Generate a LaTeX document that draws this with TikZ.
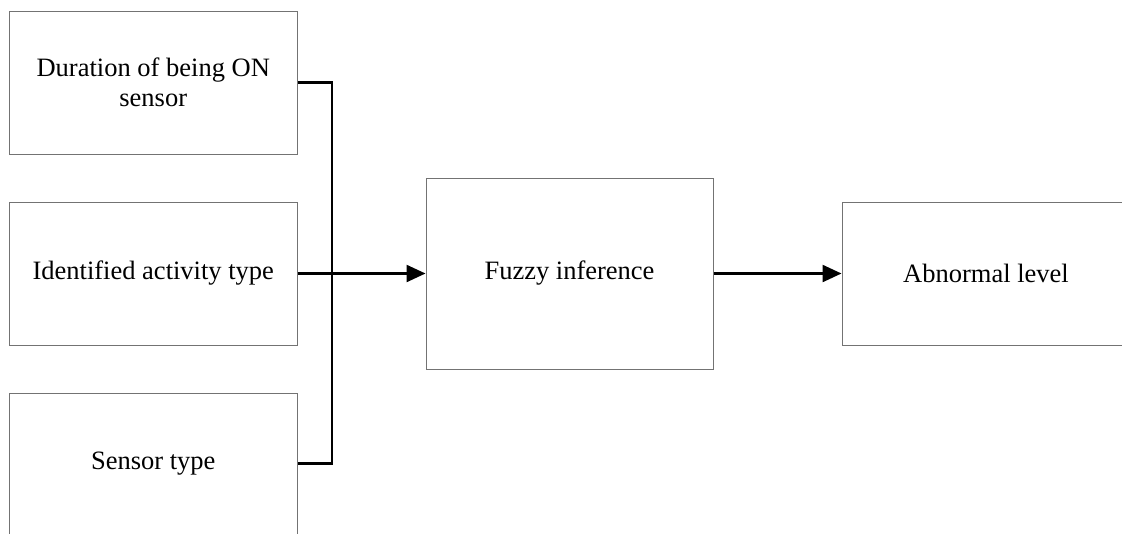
\documentclass[tikz,border=0pt]{standalone}
\usepackage{fontspec}
\setmainfont{Liberation Serif}
\usetikzlibrary{arrows.meta}
\begin{document}
\begin{tikzpicture}[x=1pt,y=-1pt,
  block/.style={draw=black!55,line width=1pt,fill=white,inner sep=0pt,
    minimum width=#1,align=center,font=\fontsize{26.5}{30}\selectfont},
  block/.default=287.5pt,
  wire/.style={line width=2.4pt,line join=miter},
  flow/.style={wire,-{Triangle[length=19pt,width=17pt]}}]
\useasboundingbox (0,0) rectangle (1122,533);
\node[block,minimum height=143pt] (dur) at (153.25,82.5) {Duration of being ON\\sensor};
\node[block,minimum height=143pt] (act) at (153.25,273.5) {Identified activity type};
\node[block,minimum height=141pt] (sen) at (153.25,463.5) {Sensor type};
\node[block=287pt,minimum height=191pt] (fuz) at (569.5,273.5) {Fuzzy inference};
\node[block=288pt,minimum height=143pt] (abn) at (986,273.5) {Abnormal level};
\coordinate (bus) at (332,0);
\draw[wire] (dur.east) -- (dur.east -| bus) -- (sen.east -| bus) -- (sen.east);
\draw[flow] (act.east) -- (fuz.west);
\draw[flow] (fuz.east) -- (abn.west);
\end{tikzpicture}
\end{document}
